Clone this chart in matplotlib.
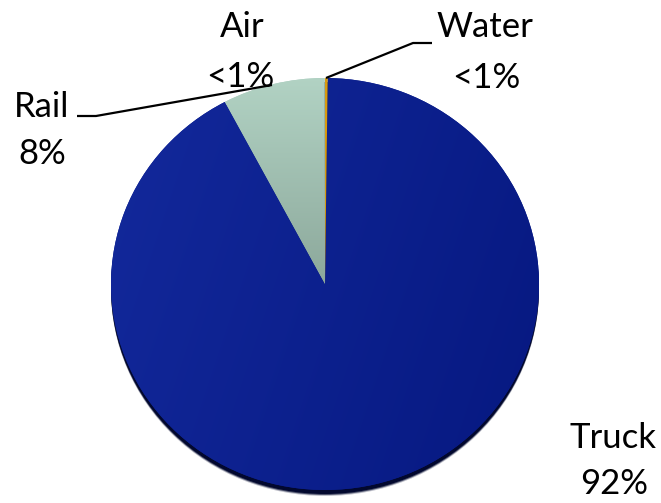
import numpy as np
import matplotlib
matplotlib.use("Agg")
import matplotlib.pyplot as plt
from matplotlib.patches import Ellipse
from matplotlib.transforms import Affine2D

# Data
modes = ["Water", "Truck", "Rail", "Air"]
shares = [0.2, 92.05, 7.7, 0.05]
labels_pct = ["<1%", "92%", "8%", "<1%"]
colors = ["#D79A10", "#0B1F8C", "#A9CBBE", "#A9CBBE"]

W, H = 661, 503
fig = plt.figure(figsize=(W / 100, H / 100), dpi=100)
ax = fig.add_axes([0, 0, 1, 1])


def Y(py):
    return H - py


cx, cy, r = 325, Y(284), 214
sy = 206 / 214  # slight vertical squash (tilted pie)

wedges, _ = ax.pie(shares, colors=colors, startangle=90, counterclock=False,
                   center=(cx, cy), radius=r, frame=False,
                   wedgeprops=dict(linewidth=0))
ax.set_xlim(0, W)
ax.set_ylim(0, H)
ax.set_aspect("equal")
ax.axis("off")

squash = Affine2D().translate(-cx, -cy).scale(1, sy).translate(cx, cy) + ax.transData

# 3D side / shadow under the pie
for dy, a in [(6, 0.25), (5, 0.6), (4, 1.0)]:
    ax.add_patch(Ellipse((cx, cy - dy), 2 * r, 2 * r * sy, color="#02082E", alpha=a, lw=0, zorder=1))

for w in wedges:
    w.set_transform(squash)
    w.set_zorder(2)
wedges[0].set_zorder(4)

ext = [cx - r, cx + r, cy - r, cy + r]
xx, yy = np.meshgrid(np.linspace(0, 1, 200), np.linspace(0, 1, 200))
# truck: lighter at left / upper-left, darker right
g = np.clip(0.75 * xx + 0.25 * yy, 0, 1)
c1 = np.array([0x13, 0x29, 0x9C]) / 255
c2 = np.array([0x06, 0x18, 0x80]) / 255
img = c1[None, None, :] * (1 - g[..., None]) + c2[None, None, :] * g[..., None]
im = ax.imshow(img, extent=ext, origin="upper", zorder=3, interpolation="bilinear")
im.set_clip_path(wedges[1])
# rail: lighter at rim, darker toward centre
r1 = np.array([0xB3, 0xD4, 0xC5]) / 255
r2 = np.array([0x8C, 0xA8, 0x9B]) / 255
g2 = np.clip((yy - 0.0) / 0.5, 0, 1)
img2 = r1[None, None, :] * (1 - g2[..., None]) + r2[None, None, :] * g2[..., None]
im2 = ax.imshow(img2, extent=ext, origin="upper", zorder=3, interpolation="bilinear")
im2.set_clip_path(wedges[2])
ax.set_xlim(0, W)
ax.set_ylim(0, H)

font = dict(family=["Lato", "DejaVu Sans"], fontsize=25, color="black", ha="center", va="baseline")

ax.text(242, Y(37), modes[3], **font)
ax.text(240, Y(87), labels_pct[3], **font)
ax.text(485, Y(37), modes[0], **font)
ax.text(486, Y(88), labels_pct[0], **font)
ax.text(42, Y(117), modes[2], **font)
ax.text(42, Y(164), labels_pct[2], **font)
ax.text(613, Y(448), modes[1], **font)
ax.text(614, Y(494), labels_pct[1], **font)

# leader lines
ax.plot([77, 96, 272], [Y(116), Y(116), Y(85)], color="black", lw=1.6, zorder=5,
        solid_capstyle="butt", solid_joinstyle="round")
ax.plot([326, 413, 432], [Y(78), Y(43), Y(43)], color="black", lw=1.6, zorder=5,
        solid_capstyle="butt", solid_joinstyle="round")

fig.savefig("out.png", dpi=100)
